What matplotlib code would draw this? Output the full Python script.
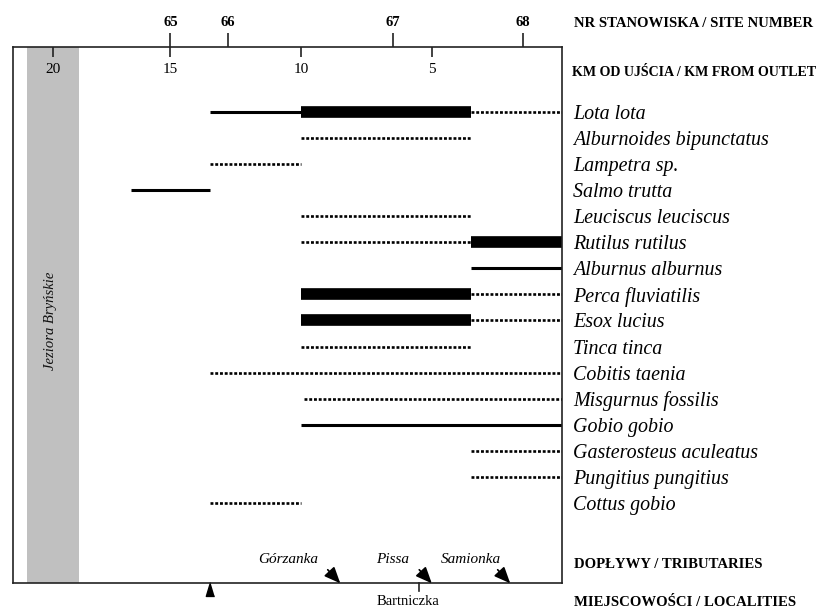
import matplotlib
matplotlib.use("Agg")
import matplotlib.pyplot as plt

plt.rcParams["font.family"] = ["Liberation Serif", "DejaVu Serif"]

# --- dane ---
species = [
    "Lota lota", "Alburnoides bipunctatus", "Lampetra sp.", "Salmo trutta",
    "Leuciscus leuciscus", "Rutilus rutilus", "Alburnus alburnus",
    "Perca fluviatilis", "Esox lucius", "Tinca tinca", "Cobitis taenia",
    "Misgurnus fossilis", "Gobio gobio", "Gasterosteus aculeatus",
    "Pungitius pungitius", "Cottus gobio",
]

# odcinki (km od, km do, rodzaj): thin / thick / dot
segments = [
    [(13.5, 10, "thin"), (10, 3.5, "thick"), (3.5, 0, "dot")],
    [(10, 3.5, "dot")],
    [(13.5, 10, "dot")],
    [(16.5, 13.5, "thin")],
    [(10, 3.5, "dot")],
    [(10, 3.5, "dot"), (3.5, 0, "thick")],
    [(3.5, 0, "thin")],
    [(10, 3.5, "thick"), (3.5, 0, "dot")],
    [(10, 3.5, "thick"), (3.5, 0, "dot")],
    [(10, 3.5, "dot")],
    [(13.5, 0, "dot")],
    [(9.9, 0, "dot")],
    [(10, 0, "thin")],
    [(3.5, 0, "dot")],
    [(3.5, 0, "dot")],
    [(13.5, 10, "dot")],
]

km_ticks = [19.5, 15, 10, 5]          # 20 narysowane przy brzegu jeziora
km_labels = ["20", "15", "10", "5"]
site_km = [15.0, 12.8, 6.5, 1.5]
site_labels = ["65", "66", "67", "68"]

lake_km = (20.5, 18.5)

tributaries = ["Górzanka", "Pissa", "Samionka"]
trib_label_km = [10.5, 6.5, 3.5]
trib_mouth_km = [8.5, 5.0, 2.0]

locality_mark_km = 13.5
bartniczka_km = 5.5

styles = {
    "thin": dict(lw=2.2, ls="-"),
    "thick": dict(lw=8.4, ls="-"),
    "dot": dict(lw=1.9, ls=(0, (1.1, 0.7))),
}

# --- wykres ---
fig = plt.figure(figsize=(8.3, 6.08), dpi=100)
ax = fig.add_axes([0.0153, 0.0406, 0.6624, 0.8816])
ax.set_xlim(21.03, 0)
ax.set_ylim(18.07, -2.467)

# numery stanowisk (os u gory, na zewnatrz)
ax2 = ax.twiny()
ax2.set_xlim(ax.get_xlim())
ax2.set_xticks(site_km)
ax2.set_xticklabels(site_labels, fontweight="bold", fontsize=10.5)
ax2.tick_params(axis="x", direction="out", length=10, width=1.2, pad=3, color="#222222")
for s in ax2.spines.values():
    s.set_visible(False)

ax.axvspan(lake_km[0], lake_km[1], color="#c0c0c0", lw=0, zorder=0)
ax.text(sum(lake_km) / 2 + 0.1, 8.0, "Jeziora Bryńskie", rotation=90, style="italic",
        fontsize=10.5, ha="center", va="center", color="#111111")

for i, segs in enumerate(segments):
    for a, b, kind in segs:
        ax.plot([a, b], [i, i], color="black", solid_capstyle="butt",
                dash_capstyle="butt", **styles[kind])

for s in ax.spines.values():
    s.set_linewidth(1.2)
    s.set_color("#222222")

# km od ujscia
ax.set_xticks(km_ticks)
ax.tick_params(axis="x", which="both", top=True, bottom=False, direction="in",
               length=7.5, width=1.2, labeltop=False, labelbottom=False, color="#222222")
for k, lab in zip(km_ticks, km_labels):
    ax.text(k, 0.9577, lab, transform=ax.get_xaxis_transform(), fontsize=11,
            ha="center", va="center")

# gatunki po prawej
ax.yaxis.tick_right()
ax.set_yticks(range(len(species)))
ax.set_yticklabels(species, style="italic", fontsize=14.4)
ax.tick_params(axis="y", length=0, pad=7.5)

# doplywy
for name, lk, mk in zip(tributaries, trib_label_km, trib_mouth_km):
    ax.text(lk, 17.15, name, style="italic", fontsize=11, ha="center", va="center")
    ax.annotate("", xy=(mk, 18.07), xytext=(mk + 0.48, 17.55),
                arrowprops=dict(arrowstyle="-|>,head_length=0.7,head_width=0.3",
                                color="black", lw=1.2, shrinkA=0, shrinkB=0,
                                mutation_scale=14))

# miejscowosci
ax.plot([locality_mark_km], [18.3], marker=[(0, 1), (-0.6, -1), (0.6, -1)],
        ms=10, color="black", clip_on=False)
ax.plot([bartniczka_km, bartniczka_km], [18.07, 18.35], color="#222222", lw=1.2,
        clip_on=False)
ax.text(bartniczka_km + 0.4, 18.75, "Bartniczka", fontsize=10.5, ha="center", va="center")

# naglowki
hx = 574 / 830
hfs = 10.6
fig.text(hx, 1 - 26.7 / 608, "NR STANOWISKA / SITE NUMBER", fontweight="bold",
         fontsize=hfs, va="baseline")
fig.text(hx - 0.003, 1 - 76 / 608, "KM OD UJŚCIA / KM FROM OUTLET", fontweight="bold",
         fontsize=10.1, va="baseline")
fig.text(hx, 1 - 568.3 / 608, "DOPŁYWY / TRIBUTARIES", fontweight="bold",
         fontsize=hfs, va="baseline")
fig.text(hx, 1 - 605.5 / 608, "MIEJSCOWOŚCI / LOCALITIES", fontweight="bold",
         fontsize=hfs, va="baseline")

fig.savefig("out.png", dpi=100)
